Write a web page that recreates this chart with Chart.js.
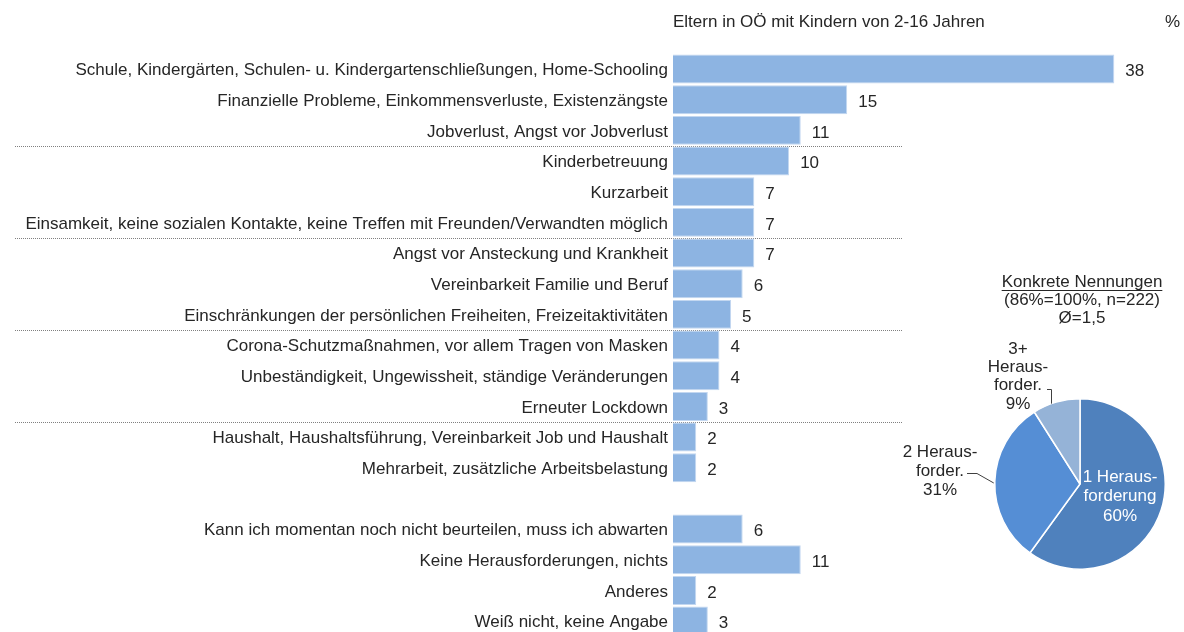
<!DOCTYPE html>
<html><head><meta charset="utf-8">
<script src="https://cdn.jsdelivr.net/npm/chart.js@4/dist/chart.umd.min.js"></script>
<style>
html,body{margin:0;padding:0;background:#fff;overflow:hidden;width:1184px;height:632px;}
#wrap{position:relative;width:1184px;height:640px;}
#bar{position:absolute;left:0;top:0;}
#pie{position:absolute;left:880px;top:260px;}
</style></head><body>
<div id="wrap">
<canvas id="bar" width="1184" height="640"></canvas>
<canvas id="pie" width="304" height="372"></canvas>
</div>
<script>
const categories = [
  'Schule, Kindergärten, Schulen- u. Kindergartenschließungen, Home-Schooling',
  'Finanzielle Probleme, Einkommensverluste, Existenzängste',
  'Jobverlust, Angst vor Jobverlust',
  'Kinderbetreuung',
  'Kurzarbeit',
  'Einsamkeit, keine sozialen Kontakte, keine Treffen mit Freunden/Verwandten möglich',
  'Angst vor Ansteckung und Krankheit',
  'Vereinbarkeit Familie und Beruf',
  'Einschränkungen der persönlichen Freiheiten, Freizeitaktivitäten',
  'Corona-Schutzmaßnahmen, vor allem Tragen von Masken',
  'Unbeständigkeit, Ungewissheit, ständige Veränderungen',
  'Erneuter Lockdown',
  'Haushalt, Haushaltsführung, Vereinbarkeit Job und Haushalt',
  'Mehrarbeit, zusätzliche Arbeitsbelastung',
  '',
  'Kann ich momentan noch nicht beurteilen, muss ich abwarten',
  'Keine Herausforderungen, nichts',
  'Anderes',
  'Weiß nicht, keine Angabe'
];
const values = [38, 15, 11, 10, 7, 7, 7, 6, 5, 4, 4, 3, 2, 2, null, 6, 11, 2, 3];
const chartTitle = 'Eltern in OÖ mit Kindern von 2-16 Jahren';
const unitLabel = '%';
const separatorsAfter = [2, 5, 8, 11];

const pieLabels = [['1 Heraus-', 'forderung'], ['2 Heraus-', 'forder.'], ['3+', 'Heraus-', 'forder.']];
const pieValues = [60, 31, 9];
const pieTitle = ['Konkrete Nennungen', '(86%=100%, n=222)', 'Ø=1,5'];

const FONT = "'Liberation Sans', Arial, sans-serif";
const FS = 17;
const TXT = '#262626';

const barDecor = {
  id: 'barDecor',
  beforeDatasetsDraw(chart) {
    const ctx = chart.ctx, y = chart.scales.y;
    ctx.save();
    ctx.strokeStyle = '#808080';
    ctx.lineWidth = 1;
    ctx.setLineDash([1, 1]);
    separatorsAfter.forEach(i => {
      const yy = Math.round((y.getPixelForValue(i) + y.getPixelForValue(i + 1)) / 2) + 0.5;
      ctx.beginPath(); ctx.moveTo(15, yy); ctx.lineTo(903, yy); ctx.stroke();
    });
    ctx.restore();
  },
  afterDatasetsDraw(chart) {
    const ctx = chart.ctx;
    const meta = chart.getDatasetMeta(0);
    ctx.save();
    ctx.fillStyle = TXT;
    ctx.font = FS + 'px ' + FONT;
    ctx.textBaseline = 'middle';
    ctx.textAlign = 'left';
    meta.data.forEach((bar, i) => {
      if (values[i] == null) return;
      ctx.fillText(String(values[i]), bar.x + 11, bar.y + 2.5);
    });
    ctx.fillText(chartTitle, chart.chartArea.left, 22);
    ctx.textAlign = 'right';
    ctx.fillText(unitLabel, 1180, 22);
    ctx.restore();
  }
};

new Chart(document.getElementById('bar'), {
  type: 'bar',
  data: {
    labels: categories,
    datasets: [{
      data: values,
      backgroundColor: '#8db4e2',
      borderColor: '#c3d7f0',
      borderWidth: 1,
      barPercentage: 0.945,
      categoryPercentage: 1
    }]
  },
  options: {
    indexAxis: 'y',
    responsive: false,
    animation: false,
    devicePixelRatio: 1,
    layout: { padding: { top: 53.7, bottom: 3.6, left: 0, right: 0 } },
    plugins: { legend: { display: false }, tooltip: { enabled: false } },
    scales: {
      x: { display: false, min: 0, max: 44 },
      y: {
        afterFit(s) { s.width = 673; s.paddingTop = 0; s.paddingBottom = 0; },
        grid: { display: false, drawTicks: false },
        border: { display: false },
        ticks: { padding: 5, labelOffset: 1.5, color: TXT, autoSkip: false, font: { family: FONT, size: FS } }
      }
    }
  },
  plugins: [barDecor]
});

const pieText = {
  id: 'pieText',
  afterDraw(chart) {
    const ctx = chart.ctx;
    const arc = chart.getDatasetMeta(0).data[0];
    const cx = arc.x, cy = arc.y, r = arc.outerRadius;
    ctx.save();
    ctx.font = FS + 'px ' + FONT;
    ctx.textAlign = 'center';
    ctx.textBaseline = 'middle';
    ctx.fillStyle = TXT;
    // title
    pieTitle.forEach((t, k) => ctx.fillText(t, cx + 2, cy - 202 + k * 18));
    const w = ctx.measureText(pieTitle[0]).width;
    ctx.strokeStyle = TXT; ctx.lineWidth = 1;
    ctx.beginPath(); ctx.moveTo(cx + 2 - w / 2, cy - 193.5); ctx.lineTo(cx + 2 + w / 2, cy - 193.5); ctx.stroke();
    // slice 3 (9%)
    const l3 = pieLabels[2].concat([pieValues[2] + '%']);
    l3.forEach((t, k) => ctx.fillText(t, cx - 62, cy - 135 + k * 18.3));
    // slice 2 (31%)
    const l2 = pieLabels[1].concat([pieValues[1] + '%']);
    l2.forEach((t, k) => ctx.fillText(t, cx - 140, cy - 32 + k * 19));
    // slice 1 (60%) inside
    ctx.fillStyle = '#ffffff';
    const l1 = pieLabels[0].concat([pieValues[0] + '%']);
    l1.forEach((t, k) => ctx.fillText(t, cx + 40, cy - 7 + k * 19.5));
    // leader lines
    ctx.strokeStyle = '#404040'; ctx.lineWidth = 1;
    ctx.beginPath();
    ctx.moveTo(cx - 113, cy - 10.5); ctx.lineTo(cx - 103, cy - 10.5); ctx.lineTo(cx - r - 1, cy - 1);
    ctx.stroke();
    ctx.beginPath();
    ctx.moveTo(cx - 33, cy - 94.5); ctx.lineTo(cx - 28.5, cy - 94.5); ctx.lineTo(cx - 28.5, cy - Math.sqrt(r * r - 28.5 * 28.5));
    ctx.stroke();
    ctx.restore();
  }
};

new Chart(document.getElementById('pie'), {
  type: 'pie',
  data: {
    labels: pieLabels.map(l => l.join(' ')),
    datasets: [{
      data: pieValues,
      backgroundColor: ['#4f81bd', '#558ed5', '#95b3d7'],
      borderColor: '#ffffff',
      borderWidth: 1.5
    }]
  },
  options: {
    responsive: false,
    animation: false,
    devicePixelRatio: 1,
    layout: { padding: { left: 114, top: 138, right: 18, bottom: 62 } },
    plugins: { legend: { display: false }, tooltip: { enabled: false } }
  },
  plugins: [pieText]
});
</script>
</body></html>
